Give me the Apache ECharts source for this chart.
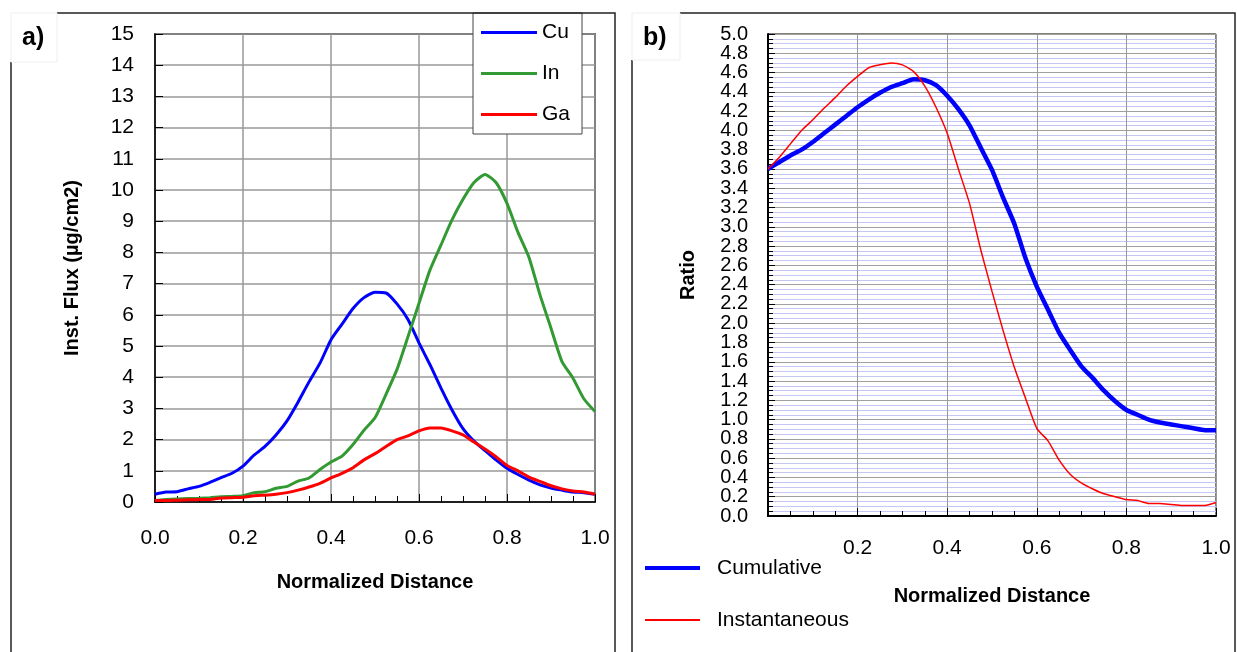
<!DOCTYPE html>
<html>
<head>
<meta charset="utf-8">
<script src="https://cdn.jsdelivr.net/npm/echarts@6/dist/echarts.min.js"></script>
<style>
  html, body { margin: 0; padding: 0; background: #fff; }
  #main { width: 1237px; height: 652px; }
</style>
</head>
<body>
<div id="main"></div>
<script>
  // sample positions along the normalized distance
  var distance = [0, 0.025, 0.05, 0.075, 0.1, 0.125, 0.15, 0.175, 0.2, 0.225,
    0.25, 0.275, 0.3, 0.325, 0.35, 0.375, 0.4, 0.425, 0.45, 0.475,
    0.5, 0.525, 0.55, 0.575, 0.6, 0.625, 0.65, 0.675, 0.7, 0.725,
    0.75, 0.775, 0.8, 0.825, 0.85, 0.875, 0.9, 0.925, 0.95, 0.975, 1.0];

  // a) instantaneous flux (µg/cm2)
  var cuFlux = [0.25, 0.32, 0.33, 0.42, 0.5, 0.63, 0.78, 0.92, 1.15, 1.5,
    1.78, 2.15, 2.6, 3.2, 3.85, 4.45, 5.2, 5.7, 6.2, 6.55,
    6.72, 6.7, 6.35, 5.85, 5.1, 4.4, 3.65, 2.95, 2.35, 1.95,
    1.65, 1.35, 1.08, 0.88, 0.7, 0.55, 0.45, 0.38, 0.32, 0.3, 0.25];
  var inFlux = [0.05, 0.08, 0.1, 0.11, 0.12, 0.14, 0.17, 0.18, 0.2, 0.3,
    0.33, 0.44, 0.5, 0.67, 0.77, 1.04, 1.28, 1.47, 1.84, 2.3,
    2.7, 3.45, 4.25, 5.3, 6.37, 7.44, 8.24, 9.04, 9.7, 10.24,
    10.5, 10.24, 9.57, 8.64, 7.84, 6.64, 5.57, 4.5, 3.97, 3.3, 2.9];
  var gaFlux = [0.05, 0.05, 0.06, 0.07, 0.08, 0.08, 0.13, 0.14, 0.15, 0.2,
    0.22, 0.25, 0.3, 0.38, 0.48, 0.6, 0.77, 0.92, 1.1, 1.35,
    1.55, 1.78, 2.0, 2.12, 2.28, 2.37, 2.37, 2.28, 2.15, 1.92,
    1.7, 1.45, 1.17, 1.0, 0.8, 0.66, 0.52, 0.42, 0.35, 0.32, 0.25];

  // b) ratio
  var cumulative = [3.6, 3.67, 3.74, 3.8, 3.88, 3.97, 4.06, 4.15, 4.24, 4.32,
    4.39, 4.45, 4.49, 4.53, 4.52, 4.47, 4.36, 4.22, 4.05, 3.82,
    3.59, 3.3, 3.03, 2.67, 2.38, 2.14, 1.9, 1.72, 1.55, 1.43,
    1.3, 1.19, 1.1, 1.05, 1.0, 0.97, 0.95, 0.93, 0.91, 0.89, 0.89];
  var instantaneous = [3.6, 3.72, 3.86, 4.0, 4.11, 4.23, 4.34, 4.46, 4.56, 4.65,
    4.68, 4.7, 4.68, 4.61, 4.46, 4.24, 3.97, 3.6, 3.24, 2.76,
    2.33, 1.92, 1.54, 1.22, 0.91, 0.78, 0.58, 0.43, 0.34, 0.28,
    0.23, 0.2, 0.17, 0.16, 0.13, 0.13, 0.12, 0.11, 0.11, 0.11, 0.14];

  function pairs(vals) {
    return distance.map(function (d, i) { return [d, vals[i]]; });
  }
  function fixed1(v) { return v.toFixed(1); }

  var FONT = 'Liberation Sans, Arial, sans-serif';

  var myChart = echarts.init(document.getElementById('main'));
  var option = {
    backgroundColor: '#fff',
    animation: false,
    textStyle: { fontFamily: FONT },
    grid: [
      { left: 155, top: 34, width: 440, height: 468, show: true, borderColor: '#000', borderWidth: 1.5, backgroundColor: '#fff' },
      { left: 768, top: 34, width: 448, height: 482, show: true, borderColor: '#000', borderWidth: 1, backgroundColor: '#fff' }
    ],
    xAxis: [
      {
        gridIndex: 0, type: 'value', min: 0, max: 1, interval: 0.2,
        name: 'Normalized Distance', nameLocation: 'middle', nameGap: 70,
        nameTextStyle: { fontFamily: FONT, fontWeight: 'bold', fontSize: 20, color: '#000' },
        axisLine: { lineStyle: { color: '#000', width: 1.5 } },
        axisTick: { inside: true, length: 8, lineStyle: { color: '#000' } },
        minorTick: { show: true, splitNumber: 4, length: 6, lineStyle: { color: '#000' } },
        axisLabel: { formatter: fixed1, margin: 26, fontSize: 21, color: '#000', fontFamily: FONT },
        splitLine: { lineStyle: { color: '#999', width: 1.5 } }
      },
      {
        gridIndex: 1, type: 'value', min: 0, max: 1, interval: 0.2,
        name: 'Normalized Distance', nameLocation: 'middle', nameGap: 70,
        nameTextStyle: { fontFamily: FONT, fontWeight: 'bold', fontSize: 20, color: '#000' },
        axisLine: { lineStyle: { color: '#000', width: 2 } },
        axisTick: { inside: true, length: 8, lineStyle: { color: '#000' } },
        minorTick: { show: true, splitNumber: 4, length: 5, lineStyle: { color: '#000' } },
        axisLabel: { formatter: fixed1, margin: 22, fontSize: 21, color: '#000', fontFamily: FONT, showMinLabel: false, showMaxLabel: true },
        splitLine: { lineStyle: { color: '#999', width: 1 } }
      }
    ],
    yAxis: [
      {
        gridIndex: 0, type: 'value', min: 0, max: 15, interval: 1,
        name: 'Inst. Flux (µg/cm2)', nameLocation: 'middle', nameGap: 73,
        nameTextStyle: { fontFamily: FONT, fontWeight: 'bold', fontSize: 20, color: '#000' },
        axisLine: { show: true, lineStyle: { color: '#000', width: 1.5 } },
        axisTick: { inside: true, length: 8, lineStyle: { color: '#000' } },
        axisLabel: { margin: 21, fontSize: 21, color: '#000', fontFamily: FONT, showMinLabel: true, showMaxLabel: true },
        splitLine: { lineStyle: { color: '#999', width: 1.5 } }
      },
      {
        gridIndex: 1, type: 'value', min: 0, max: 5, interval: 0.2,
        name: 'Ratio', nameLocation: 'middle', nameGap: 70,
        nameTextStyle: { fontFamily: FONT, fontWeight: 'bold', fontSize: 20, color: '#000' },
        axisLine: { show: true, lineStyle: { color: '#000', width: 2 } },
        axisTick: { inside: true, length: 7, lineStyle: { color: '#000' } },
        minorTick: { show: true, splitNumber: 4, length: 5, lineStyle: { color: '#000' } },
        axisLabel: { formatter: fixed1, margin: 20, fontSize: 20, color: '#000', fontFamily: FONT, showMinLabel: false, showMaxLabel: false },
        splitLine: { lineStyle: { color: '#a0a0a0', width: 1 } },
        minorSplitLine: { show: true, lineStyle: { color: '#c6c6f6', width: 1 } }
      },
      {
        // end labels (0.0 and 5.0) of the ratio axis
        gridIndex: 1, type: 'value', min: 0, max: 5, interval: 5, position: 'left', offset: 0,
        axisLine: { show: false }, axisTick: { show: false }, splitLine: { show: false },
        axisLabel: { formatter: fixed1, margin: 20, fontSize: 20, color: '#000', fontFamily: FONT, showMinLabel: true, showMaxLabel: true }
      }
    ],
    legend: [
      {
        data: ['Cu', 'In', 'Ga'],
        orient: 'vertical', left: 473, top: 13,
        icon: 'rect', itemWidth: 56, itemHeight: 3, itemGap: 20,
        padding: [9, 12, 9, 8],
        backgroundColor: '#fff', borderColor: '#444', borderWidth: 1,
        textStyle: { fontSize: 21, lineHeight: 20, color: '#000', fontFamily: FONT }
      },
      {
        data: ['Cumulative'],
        left: 645, top: 557, padding: 0,
        icon: 'rect', itemWidth: 55, itemHeight: 4,
        textStyle: { fontSize: 21, lineHeight: 22, color: '#000', fontFamily: FONT, padding: [0, 0, 0, 12] }
      },
      {
        data: ['Instantaneous'],
        left: 645, top: 609, padding: 0,
        icon: 'rect', itemWidth: 55, itemHeight: 2,
        textStyle: { fontSize: 21, lineHeight: 22, color: '#000', fontFamily: FONT, padding: [0, 0, 0, 12] }
      }
    ],
    series: [
      { name: 'Cu', type: 'line', xAxisIndex: 0, yAxisIndex: 0, showSymbol: false, smooth: 0.2, color: '#0000ff', lineStyle: { width: 3 }, data: pairs(cuFlux) },
      { name: 'In', type: 'line', xAxisIndex: 0, yAxisIndex: 0, showSymbol: false, smooth: 0.2, color: '#339933', lineStyle: { width: 3 }, data: pairs(inFlux) },
      { name: 'Ga', type: 'line', xAxisIndex: 0, yAxisIndex: 0, showSymbol: false, smooth: 0.2, color: '#ff0000', lineStyle: { width: 3 }, data: pairs(gaFlux) },
      { name: 'Cumulative', type: 'line', xAxisIndex: 1, yAxisIndex: 1, showSymbol: false, smooth: 0.2, color: '#0000ff', lineStyle: { width: 4.5 }, data: pairs(cumulative) },
      { name: 'Instantaneous', type: 'line', xAxisIndex: 1, yAxisIndex: 1, showSymbol: false, smooth: 0.2, color: '#ff0000', lineStyle: { width: 1.5 }, data: pairs(instantaneous) }
    ],
    graphic: [
      // panel frames
      { type: 'polyline', shape: { points: [[57, 13], [615, 13], [615, 652]] }, style: { stroke: '#222', lineWidth: 1.5, fill: null }, z: 10 },
      { type: 'line', shape: { x1: 11, y1: 62, x2: 11, y2: 652 }, style: { stroke: '#222', lineWidth: 1.5 }, z: 10 },
      { type: 'polyline', shape: { points: [[680, 13], [1235, 13], [1235, 652]] }, style: { stroke: '#222', lineWidth: 1.5, fill: null }, z: 10 },
      { type: 'line', shape: { x1: 632, y1: 60, x2: 632, y2: 652 }, style: { stroke: '#222', lineWidth: 1.5 }, z: 10 },
      // panel labels
      { type: 'rect', shape: { x: 11, y: 13, width: 46, height: 49 }, style: { fill: '#fff', stroke: '#eee', lineWidth: 1 }, z: 10 },
      { type: 'text', left: 22, top: 26, style: { text: 'a)', font: 'bold 25px ' + FONT, fill: '#000' }, z: 11 },
      { type: 'rect', shape: { x: 632, y: 13, width: 48, height: 47 }, style: { fill: '#fff', stroke: '#eee', lineWidth: 1 }, z: 10 },
      { type: 'text', left: 643, top: 26, style: { text: 'b)', font: 'bold 25px ' + FONT, fill: '#000' }, z: 11 }
    ]
  };
  myChart.setOption(option);
</script>
</body>
</html>
